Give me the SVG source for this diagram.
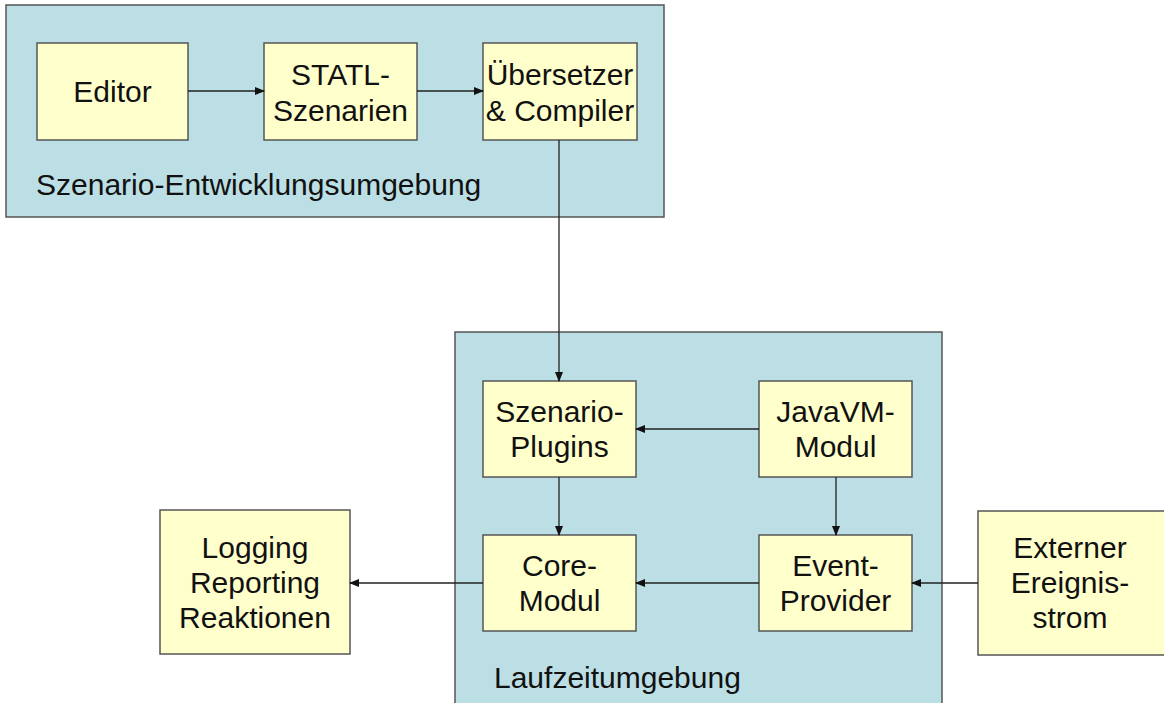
<svg xmlns="http://www.w3.org/2000/svg" width="1164" height="703" viewBox="0 0 1164 703">
<defs>
<marker id="ah" markerWidth="10" markerHeight="8" refX="9" refY="4" orient="auto" markerUnits="userSpaceOnUse">
<path d="M0,0 L10,4 L0,8 Z" fill="#111"/>
</marker>
<style>
.env{fill:#bbdfe4;stroke:#555;stroke-width:1.5}
.box{fill:#ffffcc;stroke:#555;stroke-width:1.5}
.t{font-family:"Liberation Sans",Arial,sans-serif;font-size:30px;fill:#111;text-anchor:middle}
.lbl{font-family:"Liberation Sans",Arial,sans-serif;font-size:30px;fill:#111}
.c{stroke:#222;stroke-width:1.3;fill:none;marker-end:url(#ah)}
</style>
</defs>
<rect width="1164" height="703" fill="#fff"/>
<g id="dev-env">
<rect class="env" x="6" y="5" width="658" height="212"/>
<text class="lbl" x="36" y="195">Szenario-Entwicklungsumgebung</text>
</g>
<g id="runtime-env">
<rect class="env" x="455" y="332" width="487" height="380"/>
<text class="lbl" x="494" y="688">Laufzeitumgebung</text>
</g>
<g id="editor">
<rect class="box" x="37" y="43" width="151" height="97"/>
<text class="t" x="112.5" y="102">Editor</text>
</g>
<g id="statl">
<rect class="box" x="264" y="43" width="153" height="97"/>
<text class="t" x="340.5" y="85">STATL-</text>
<text class="t" x="340.5" y="121">Szenarien</text>
</g>
<g id="compiler">
<rect class="box" x="483" y="43" width="154" height="97"/>
<text class="t" x="560" y="85">Übersetzer</text>
<text class="t" x="560" y="121">&amp; Compiler</text>
</g>
<g id="plugins">
<rect class="box" x="483" y="381" width="153" height="96"/>
<text class="t" x="559.5" y="422">Szenario-</text>
<text class="t" x="559.5" y="457">Plugins</text>
</g>
<g id="javavm">
<rect class="box" x="759" y="381" width="153" height="96"/>
<text class="t" x="835.5" y="422">JavaVM-</text>
<text class="t" x="835.5" y="457">Modul</text>
</g>
<g id="core">
<rect class="box" x="483" y="535" width="153" height="96"/>
<text class="t" x="559.5" y="576">Core-</text>
<text class="t" x="559.5" y="611">Modul</text>
</g>
<g id="event">
<rect class="box" x="759" y="535" width="153" height="96"/>
<text class="t" x="835.5" y="576">Event-</text>
<text class="t" x="835.5" y="611">Provider</text>
</g>
<g id="logging">
<rect class="box" x="160" y="510" width="190" height="144"/>
<text class="t" x="255" y="558">Logging</text>
<text class="t" x="255" y="593">Reporting</text>
<text class="t" x="255" y="628">Reaktionen</text>
</g>
<g id="extern">
<rect class="box" x="978" y="511" width="200" height="144"/>
<text class="t" x="1070" y="558">Externer</text>
<text class="t" x="1070" y="593">Ereignis-</text>
<text class="t" x="1070" y="628">strom</text>
</g>
<g id="connectors">
<line class="c" x1="188" y1="91" x2="264" y2="91"/>
<line class="c" x1="417" y1="91" x2="483" y2="91"/>
<line class="c" x1="559" y1="140" x2="559" y2="381"/>
<line class="c" x1="759" y1="429" x2="636" y2="429"/>
<line class="c" x1="559" y1="477" x2="559" y2="535"/>
<line class="c" x1="836" y1="477" x2="836" y2="535"/>
<line class="c" x1="759" y1="583" x2="636" y2="583"/>
<line class="c" x1="978" y1="583" x2="912" y2="583"/>
<line class="c" x1="483" y1="583" x2="350" y2="583"/>
</g>
</svg>
